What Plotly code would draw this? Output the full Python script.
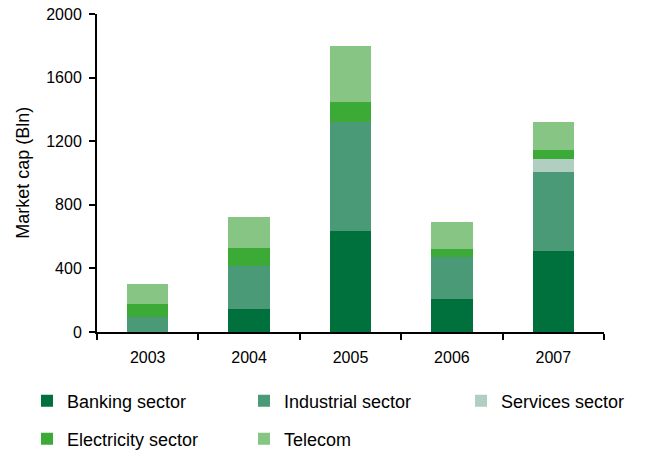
import plotly.graph_objects as go

years = ["2003", "2004", "2005", "2006", "2007"]
banking = [0, 146, 636, 209, 510]
industrial = [96, 272, 686, 264, 496]
services = [0, 0, 0, 0, 82]
electricity = [82, 111, 124, 50, 56]
telecom = [125, 195, 351, 169, 176]

series_names = ["Banking sector", "Industrial sector", "Services sector",
                "Electricity sector", "Telecom"]
series_values = [banking, industrial, services, electricity, telecom]
colors = ["#00703C", "#4A9A77", "#B1CFC1", "#3BAA36", "#86C584"]
legend_ids = ["legend", "legend2", "legend3", "legend4", "legend5"]

W, H = 670, 457
FONT = "Liberation Sans, Arial, sans-serif"

fig = go.Figure()
for name, vals, col, lg in zip(series_names, series_values, colors, legend_ids):
    fig.add_trace(go.Bar(x=years, y=vals, name=name, marker_color=col,
                         marker_line_width=0, legend=lg))

# legend entry positions (pixels: left edge of item, vertical centre)
leg_pos = [(27, 401), (244, 401), (461, 401), (27, 439), (244, 439)]
layout_legends = {}
for lg, (px, py) in zip(legend_ids, leg_pos):
    layout_legends[lg] = dict(
        xref="container", yref="container",
        x=px / W, y=1 - py / H, xanchor="left", yanchor="middle",
        font=dict(family=FONT, size=18, color="#000000"),
        bgcolor="rgba(0,0,0,0)", borderwidth=0,
    )

fig.update_layout(
    width=W, height=H,
    barmode="stack", bargap=0.59,
    plot_bgcolor="white", paper_bgcolor="white",
    margin=dict(l=97, r=66, t=14, b=125, autoexpand=False),
    font=dict(family=FONT, size=16, color="#000000"),
    showlegend=True,
    annotations=[dict(
        text="Market cap (Bln)", textangle=-90, showarrow=False,
        xref="paper", yref="paper", x=-0.1466, y=0.5,
        xanchor="center", yanchor="middle",
        font=dict(family=FONT, size=18, color="#000000"),
    )],
    **layout_legends,
)
fig.update_xaxes(
    type="category", showline=True, linecolor="black", linewidth=2,
    ticks="outside", tickson="boundaries", ticklen=6, tickwidth=2,
    tickcolor="black", showgrid=False, zeroline=False,
    tickfont=dict(size=16), ticklabelstandoff=10,
)
fig.update_yaxes(
    range=[0, 2000], dtick=400, showline=True, linecolor="black", linewidth=2,
    ticks="outside", ticklen=6, tickwidth=2, tickcolor="black",
    showgrid=False, zeroline=False, tickfont=dict(size=16),
    ticklabelstandoff=4, ticklabeloverflow="allow",
)

fig.write_html("out.html",
               config={"displayModeBar": False},
               post_script="document.body.style.margin='0px';")
